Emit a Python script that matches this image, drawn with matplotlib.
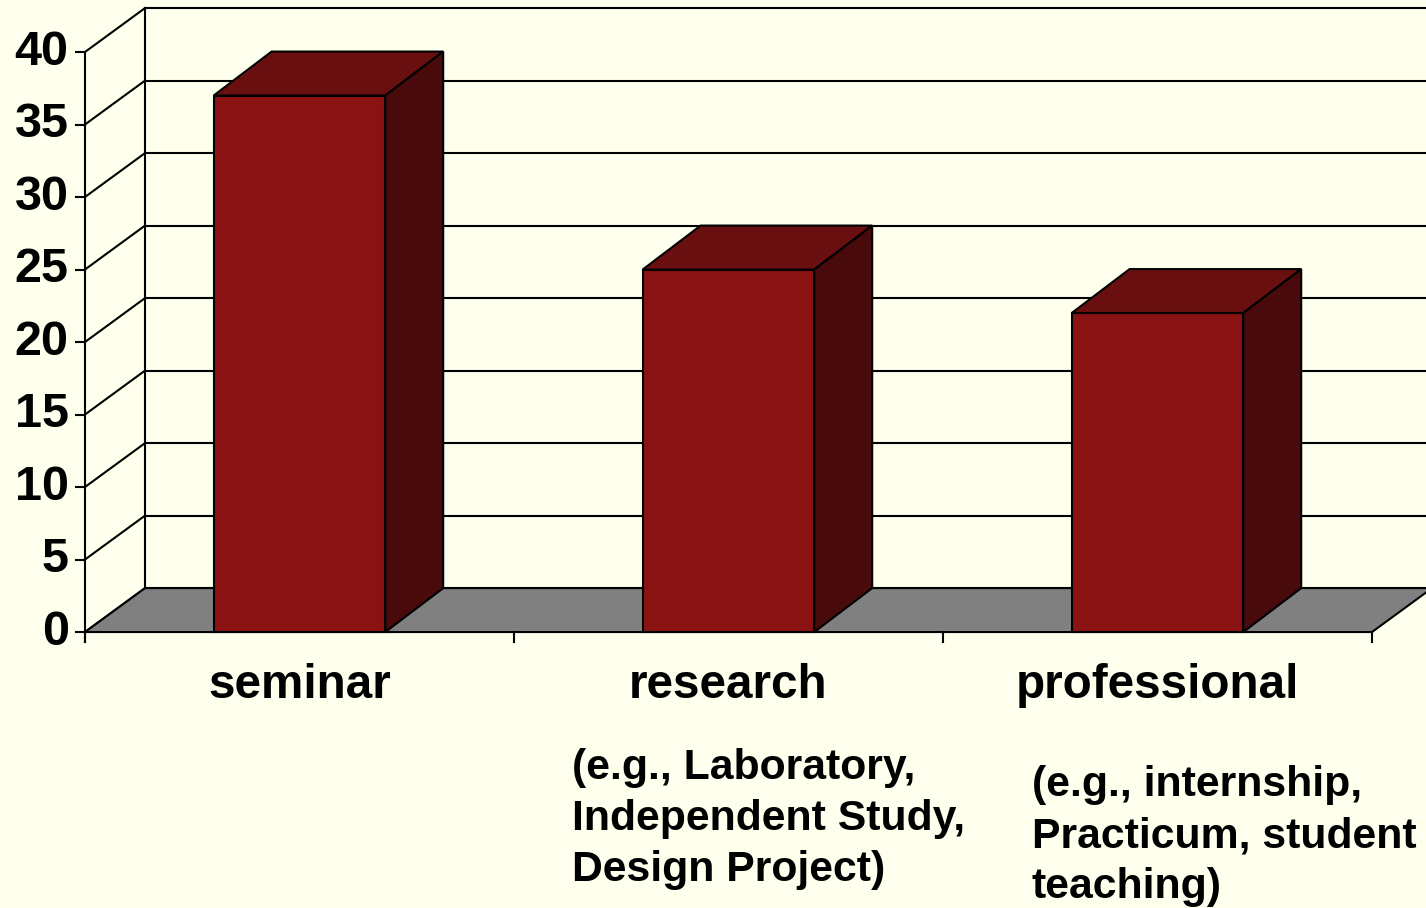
from matplotlib import pyplot as plt
from matplotlib.patches import Polygon

# chart values
categories = ['seminar', 'research', 'professional']
sub_labels = ['', '(e.g., Laboratory,\nIndependent Study,\nDesign Project)',
              '(e.g., internship,\nPracticum, student\nteaching)']
values = [37, 25, 22]
y_ticks = [0, 5, 10, 15, 20, 25, 30, 35, 40]

BG = '#FFFFEE'
FRONT = '#8B1212'
TOP = '#6A0F0F'
SIDE = '#480A0A'
FLOOR = '#808080'
LW = 1.5

# depth of the 3d box in data units
DX, DY = 0.14, 3.03
BDX = 0.135
BAR_W = 0.4
YMAX = 40

plt.rcParams['font.family'] = ['Liberation Sans', 'DejaVu Sans']
plt.rcParams['font.weight'] = 'bold'

fig = plt.figure(figsize=(14.26, 9.08), dpi=100)
fig.patch.set_facecolor(BG)
ax = fig.add_axes([0, 0, 1, 1])
ax.set_facecolor(BG)
ax.set_xlim(-0.1981, 3.1259)
ax.set_ylim(-19.03, 43.586)
ax.axis('off')

# back wall gridlines and left wall diagonals
for v in y_ticks:
    ax.plot([DX, 3 + DX + 0.2], [v + DY, v + DY], color='black', lw=LW, zorder=1)
    ax.plot([0, DX], [v, v + DY], color='black', lw=LW, zorder=1)
    ax.plot([-0.021, 0], [v, v], color='black', lw=LW, zorder=1)
ax.plot([DX, DX], [DY, YMAX + DY], color='black', lw=LW, zorder=1)
ax.plot([0, 0], [-0.69, YMAX], color='black', lw=LW, zorder=3)

# floor
floor = Polygon([(0, 0), (3, 0), (3 + DX, DY), (DX, DY)], closed=True,
                facecolor=FLOOR, edgecolor='black', lw=LW, zorder=2)
ax.add_patch(floor)
for i in range(4):
    ax.plot([i, i], [0, -0.69], color='black', lw=LW, zorder=3)

# bars
for i, v in enumerate(values):
    x0 = i + 0.5 - BAR_W / 2
    x1 = i + 0.5 + BAR_W / 2
    front = Polygon([(x0, 0), (x1, 0), (x1, v), (x0, v)], closed=True,
                    facecolor=FRONT, edgecolor='black', lw=LW, zorder=4)
    top = Polygon([(x0, v), (x1, v), (x1 + BDX, v + DY), (x0 + BDX, v + DY)],
                  closed=True, facecolor=TOP, edgecolor='black', lw=LW, zorder=4)
    side = Polygon([(x1, 0), (x1 + BDX, DY), (x1 + BDX, v + DY), (x1, v)],
                   closed=True, facecolor=SIDE, edgecolor='black', lw=LW, zorder=4)
    for p in (front, top, side):
        ax.add_patch(p)

# y tick labels
for v in y_ticks:
    ax.text(-0.038, v, str(v), ha='right', va='center', fontsize=35,
            fontweight='bold')

# category labels
for i, c in enumerate(categories):
    ax.text(i + 0.5, -4.55, c, ha='center', va='baseline', fontsize=34.3,
            fontweight='bold')

sub_pos = [None, (1.135, -8.0), (2.207, -9.17)]
for s, pos in zip(sub_labels, sub_pos):
    if s:
        ax.text(pos[0], pos[1], s, ha='left', va='top', fontsize=30.8,
                fontweight='bold', linespacing=1.36)

fig.savefig('out.png', dpi=100, facecolor=BG)
